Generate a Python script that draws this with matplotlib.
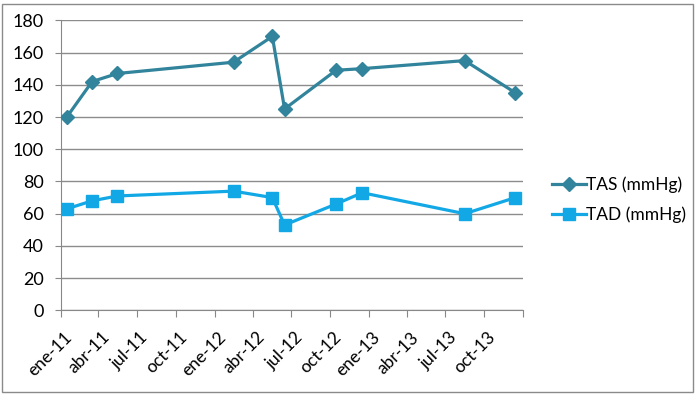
import matplotlib
matplotlib.use("Agg")
import matplotlib.pyplot as plt
import matplotlib.transforms as mtransforms
from matplotlib.patches import Rectangle
import pandas as pd

dates = ["2011-01-16", "2011-03-17", "2011-05-16", "2012-02-15", "2012-05-17",
         "2012-06-15", "2012-10-15", "2012-12-16", "2013-08-16", "2013-12-14"]
tas = [120, 142, 147, 154, 170, 125, 149, 150, 155, 135]
tad = [63, 68, 71, 74, 70, 53, 66, 73, 60, 70]
tick_labels = ["ene-11", "abr-11", "jul-11", "oct-11", "ene-12", "abr-12", "jul-12",
               "oct-12", "ene-13", "abr-13", "jul-13", "oct-13", ""]

plt.rcParams['font.family'] = ['Lato', 'DejaVu Sans']
x = pd.to_datetime(dates)

fig = plt.figure(figsize=(6.97, 3.94), dpi=100)
ax = fig.add_axes([60.5/697, 1-310.4/394, (523-60.5)/697, (310.4-20.3)/394])

c_tas = '#31849B'
c_tad = '#12A8E6'
ax.plot(x, tas, color=c_tas, lw=2.3, marker='D', ms=6.8, label='TAS (mmHg)', zorder=3)
ax.plot(x, tad, color=c_tad, lw=2.3, marker='s', ms=8.6, label='TAD (mmHg)', zorder=3)

ticks = pd.date_range("2011-01-01", "2014-01-01", freq="QS")
ax.set_xlim(ticks[0], ticks[-1])
ax.set_xticks(ticks)
ax.set_ylim(0, 180)
ax.set_yticks(range(0, 181, 20))
ax.tick_params(axis='y', labelsize=13, length=4, color='#888888', pad=8)
ax.tick_params(axis='x', length=5, color='#888888', pad=6)
ax.set_xticklabels(tick_labels, rotation=45, ha='right', va='center',
                   rotation_mode='anchor', fontsize=12.5)
off = mtransforms.ScaledTranslation(9/100, -9/100, fig.dpi_scale_trans)
for lab in ax.get_xticklabels():
    lab.set_transform(lab.get_transform() + off)
ax.grid(axis='y', color='#8c8c8c', lw=1)
ax.set_axisbelow(True)
for s in ['top', 'right']:
    ax.spines[s].set_visible(False)
for s in ['left', 'bottom']:
    ax.spines[s].set_color('#888888')

fig.legend(loc='upper left', bbox_to_anchor=(536/697, 1-161/394), frameon=False,
           fontsize=12.5, handlelength=2.0, handletextpad=0.0, labelspacing=0.75)

fig.patches.append(Rectangle((2/697, 2/394), 691/697, 388/394, transform=fig.transFigure,
                             fill=False, edgecolor='#8a8a8a', lw=1))

fig.savefig("out.png", dpi=100)
